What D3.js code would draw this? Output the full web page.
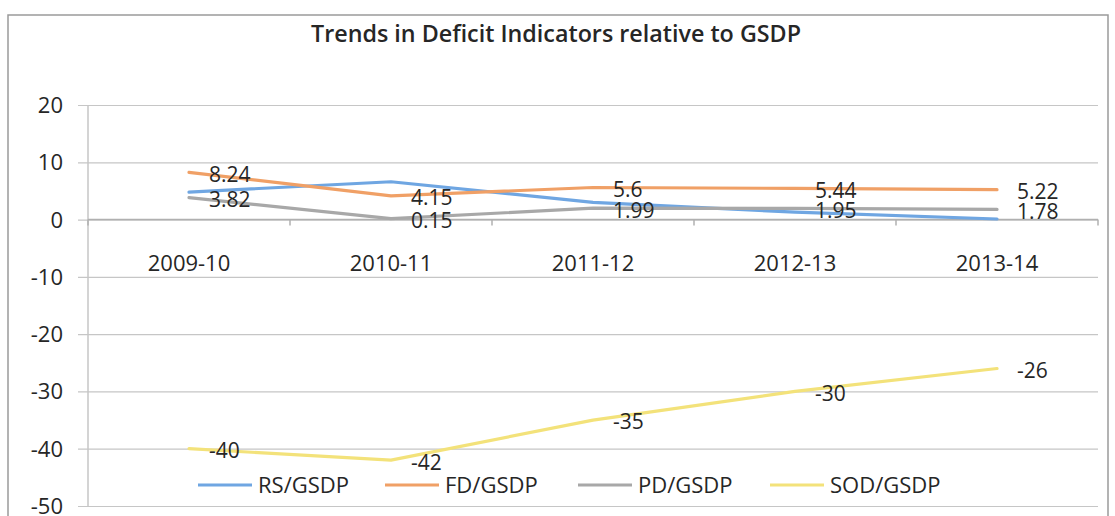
<!DOCTYPE html>
<html>
<head>
<meta charset="utf-8">
<script src="https://cdn.jsdelivr.net/npm/d3@7"></script>
<style>
  html, body { margin: 0; padding: 0; background: #ffffff; }
  svg { display: block; }
  text { font-family: "Open Sans", "Noto Sans", sans-serif; fill: #262626; }
</style>
</head>
<body>
<svg id="chart" width="1115" height="516"></svg>
<script>
// ---- data ----
const categories = ["2009-10", "2010-11", "2011-12", "2012-13", "2013-14"];
const rsGsdp  = [4.8, 6.6, 3.0, 1.3, 0.1];
const fdGsdp  = [8.24, 4.15, 5.6, 5.44, 5.22];
const pdGsdp  = [3.82, 0.15, 1.99, 1.95, 1.78];
const sodGsdp = [-40, -42, -35, -30, -26];
const seriesNames = ["RS/GSDP", "FD/GSDP", "PD/GSDP", "SOD/GSDP"];
const yTicks = [20, 10, 0, -10, -20, -30, -40, -50];
const titleText = "Trends in Deficit Indicators relative to GSDP";

const seriesValues = [rsGsdp, fdGsdp, pdGsdp, sodGsdp];
const showLabels = [false, true, true, true];
const colors = ["#6fa6e2", "#f0a066", "#a8a8a8", "#f3e27a"];

const svg = d3.select("#chart");

// outer chart frame
svg.append("rect")
  .attr("x", 8).attr("y", 15).attr("width", 1100).attr("height", 520)
  .attr("fill", "#fff").attr("stroke", "#9a9a9a").attr("stroke-width", 1.5);

// title
svg.append("text")
  .attr("x", 556).attr("y", 42)
  .attr("text-anchor", "middle")
  .attr("font-size", 23).attr("font-weight", 600)
  .attr("textLength", 490).attr("lengthAdjust", "spacingAndGlyphs")
  .text(titleText);

// scales
const plotL = 88, plotR = 1098;
const x = d3.scaleBand().domain(categories).range([plotL, plotR]).padding(0);
const y = d3.scaleLinear().domain([-50, 20]).range([506, 105]);
const cx = c => x(c) + x.bandwidth() / 2;

// gridlines + y axis
const yAxis = d3.axisLeft(y).tickValues(yTicks).tickSize(-(plotR - plotL))
  .tickFormat(d => String(d));
const gy = svg.append("g").attr("transform", `translate(${plotL},0)`).call(yAxis);
gy.select(".domain").remove();
gy.selectAll(".tick line").attr("stroke", "#c6c6c6").attr("stroke-width", 1.2)
  .attr("x1", -10);
gy.selectAll(".tick text").attr("font-size", 22).attr("fill", "#333")
  .attr("font-family", "'Open Sans', sans-serif").attr("dy", "0.34em").attr("x", -25);

// vertical axis line
svg.append("line").attr("x1", plotL).attr("x2", plotL).attr("y1", y(20)).attr("y2", y(-50))
  .attr("stroke", "#c6c6c6").attr("stroke-width", 1.5);

// horizontal axis at 0
svg.append("line").attr("x1", plotL).attr("x2", plotR).attr("y1", y(0)).attr("y2", y(0))
  .attr("stroke", "#b0b0b0").attr("stroke-width", 1.5);
const bounds = categories.map(c => x(c)).concat([plotR]);
svg.selectAll("line.xtick").data(bounds).join("line").attr("class", "xtick")
  .attr("x1", d => d).attr("x2", d => d).attr("y1", y(0)).attr("y2", y(0) + 6)
  .attr("stroke", "#b0b0b0").attr("stroke-width", 1.5);

// category labels
svg.selectAll("text.xlab").data(categories).join("text").attr("class", "xlab")
  .attr("x", d => cx(d)).attr("y", 263).attr("dy", "0.35em")
  .attr("text-anchor", "middle").attr("font-size", 22).attr("fill", "#333")
  .text(d => d);

// lines
const line = d3.line().x((d, i) => cx(categories[i])).y(d => y(d));
seriesValues.forEach((vals, si) => {
  svg.append("path").datum(vals)
    .attr("d", line).attr("fill", "none")
    .attr("stroke", colors[si]).attr("stroke-width", 3.2)
    .attr("stroke-linejoin", "round").attr("stroke-linecap", "round");
});

// data labels
seriesValues.forEach((vals, si) => {
  if (!showLabels[si]) return;
  svg.selectAll(null).data(vals).join("text")
    .attr("x", (d, i) => cx(categories[i]) + 20)
    .attr("y", d => y(d) + 2)
    .attr("dy", "0.35em")
    .attr("font-size", 21).attr("fill", "#222")
    .text(d => d);
});

// legend
const legendX = [198, 385, 578, 770];
const lg = svg.append("g");
seriesNames.forEach((name, i) => {
  lg.append("line").attr("x1", legendX[i]).attr("x2", legendX[i] + 54)
    .attr("y1", 485).attr("y2", 485)
    .attr("stroke", colors[i]).attr("stroke-width", 3);
  lg.append("text").attr("x", legendX[i] + 60).attr("y", 485).attr("dy", "0.35em")
    .attr("font-size", 22).attr("fill", "#333").text(name);
});
</script>
</body>
</html>
